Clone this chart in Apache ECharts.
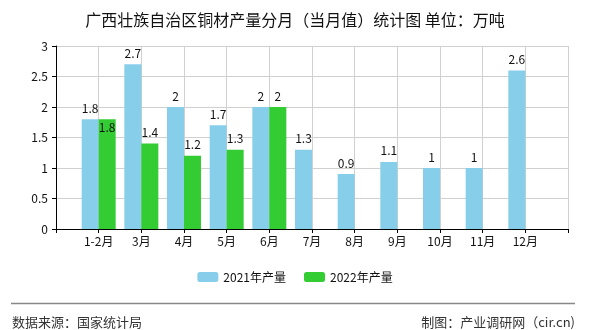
<!DOCTYPE html>
<html>
<head>
<meta charset="utf-8">
<script src="https://cdn.jsdelivr.net/npm/echarts@6/dist/echarts.min.js"></script>
<style>html,body{margin:0;padding:0;background:#fff}#c{width:590px;height:330px}</style>
</head>
<body>
<div id="c"></div>
<script>
const categories = ['1-2月','3月','4月','5月','6月','7月','8月','9月','10月','11月','12月'];
const v2021 = [1.8, 2.7, 2, 1.7, 2, 1.3, 0.9, 1.1, 1, 1, 2.6];
const v2022 = [1.8, 1.4, 1.2, 1.3, 2, null, null, null, null, null, null];
const yTicks = [0, 0.5, 1, 1.5, 2, 2.5, 3];
const seriesNames = ['2021年产量', '2022年产量'];

const FONT = '"Noto Sans CJK SC", "DejaVu Sans", sans-serif';
const cats = [''].concat(categories, ['']);
const pad = arr => [null].concat(arr, [null]);

const chart = echarts.init(document.getElementById('c'));
chart.setOption({
  animation: false,
  textStyle: { fontFamily: FONT },
  title: {
    text: '广西壮族自治区铜材产量分月（当月值）统计图 单位：万吨',
    left: 'center', top: 7,
    textStyle: { fontSize: 16, fontWeight: 'normal', color: '#111', fontFamily: FONT }
  },
  legend: {
    bottom: 42, left: 'center',
    itemWidth: 21, itemHeight: 10, itemGap: 18,
    textStyle: { fontSize: 12, color: '#111', fontFamily: FONT },
    data: seriesNames
  },
  grid: { left: 56, right: 22, top: 46, bottom: 101, containLabel: false },
  xAxis: {
    type: 'category', data: cats, boundaryGap: false,
    axisLine: { show: true, lineStyle: { color: '#000' } },
    axisTick: { show: true, interval: 0, length: 4, lineStyle: { color: '#000' } },
    axisLabel: { interval: 0, color: '#111', fontSize: 12, margin: 6 },
    splitLine: { show: true, interval: 0, lineStyle: { color: '#d0d0d0' } }
  },
  yAxis: {
    type: 'value', min: yTicks[0], max: yTicks[yTicks.length-1], interval: 0.5,
    axisLine: { show: true, lineStyle: { color: '#000' } },
    axisTick: { show: true, length: 4, lineStyle: { color: '#000' } },
    axisLabel: { color: '#111', fontSize: 12, margin: 8 },
    splitLine: { show: true, lineStyle: { color: '#d0d0d0' } }
  },
  series: [
    {
      name: seriesNames[0], type: 'bar', data: pad(v2021),
      barWidth: 17, barGap: '0%',
      itemStyle: { color: '#87CEEB' },
      label: { show: true, position: 'top', distance: 5, color: '#111', fontSize: 12 }
    },
    {
      name: seriesNames[1], type: 'bar',
      data: pad(v2022).map((v, i) => i === 1 ? { value: v, label: { position: 'insideTop', distance: 2 } } : v),
      barWidth: 17, barGap: '0%',
      itemStyle: { color: '#33CC33' },
      label: { show: true, position: 'top', distance: 5, color: '#111', fontSize: 12 }
    }
  ],
  graphic: [
    { type: 'line', shape: { x1: 11, y1: 303.5, x2: 575, y2: 303.5 }, style: { stroke: '#888', lineWidth: 1.5 } },
    { type: 'text', left: 12, top: 316, style: { text: '数据来源：国家统计局', fontSize: 13, fill: '#333', fontFamily: FONT } },
    { type: 'text', right: 15, top: 316, style: { text: '制图：产业调研网（cir.cn)', fontSize: 13, fill: '#333', fontFamily: FONT } }
  ]
});
</script>
</body>
</html>
